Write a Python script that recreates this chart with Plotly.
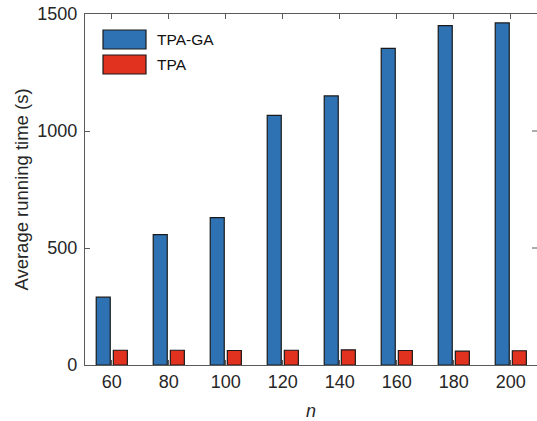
import plotly.graph_objects as go

categories = ["60", "80", "100", "120", "140", "160", "180", "200"]
tpa_ga = [290, 557, 630, 1067, 1150, 1353, 1450, 1462]
tpa = [63, 63, 62, 63, 65, 62, 59, 61]
y_ticks = [0, 500, 1000, 1500]

blue = "#2E72B4"
red = "#E1311F"
edge = "#1A1A1A"
axis_col = "#5a5a5a"
txt = "#262626"
font_family = "Liberation Sans, Arial, Helvetica, sans-serif"

fig = go.Figure()
fig.add_trace(go.Bar(x=categories, y=tpa_ga, name="TPA-GA", marker=dict(color=blue, line=dict(color=edge, width=1.2)), showlegend=False))
fig.add_trace(go.Bar(x=categories, y=tpa, name="TPA", marker=dict(color=red, line=dict(color=edge, width=1.2)), showlegend=False))

# plot area: x 85..537 (452 px), y 14..365 (351 px); right border is cropped off like the reference
PW = 452.0
PH = 351.0
def px(x):
    return (x - 85) / PW
def py(y):
    return (365 - y) / PH

legend_items = [("TPA-GA", blue, 30, 49), ("TPA", red, 55, 74)]
for label, col, top, bot in legend_items:
    fig.add_shape(type="rect", xref="paper", yref="paper", x0=px(103), x1=px(146), y0=py(bot), y1=py(top),
                  fillcolor=col, line=dict(color=edge, width=1.2))
    fig.add_annotation(xref="paper", yref="paper", x=px(155), y=py((top + bot) / 2), text=label,
                       showarrow=False, xanchor="left", yanchor="middle",
                       font=dict(size=15.5, color="#111111", family=font_family))

# mirrored inward ticks on the (cropped) right side
for t in y_ticks[1:-1]:
    fig.add_shape(type="line", xref="paper", yref="y", x0=px(532), x1=px(537), y0=t, y1=t,
                  line=dict(color=axis_col, width=1))

fig.update_layout(
    width=537, height=421,
    margin=dict(l=85, r=0, t=14, b=56, autoexpand=False),
    paper_bgcolor="white", plot_bgcolor="white",
    barmode="group", bargap=0.40, bargroupgap=0.18,
    font=dict(family=font_family, size=18, color=txt),
)
fig.update_xaxes(
    type="category", range=[-0.47, -0.47 + PW / 57.0], automargin=False,
    showline=True, linecolor=axis_col, linewidth=1.2, mirror="ticks",
    ticks="inside", ticklen=5, tickcolor=axis_col, tickwidth=1,
    showgrid=False, zeroline=False,
    tickfont=dict(size=18, color=txt),
    title=dict(text="<i>n</i>", font=dict(size=18, color=txt), standoff=13),
)
fig.update_yaxes(
    range=[0, 1500], tickvals=y_ticks, automargin=False,
    showline=True, linecolor=axis_col, linewidth=1.2, mirror=False,
    ticks="inside", ticklen=5, tickcolor=axis_col, tickwidth=1,
    showgrid=False, zeroline=False, ticklabelstandoff=3,
    tickfont=dict(size=18, color=txt),
    title=dict(text="Average running time (s)", font=dict(size=18.5, color=txt), standoff=3),
)

fig.write_html("out.html", config={"displayModeBar": False},
               post_script="document.documentElement.style.overflow='hidden';document.body.style.margin='0';document.body.style.overflow='hidden';")
